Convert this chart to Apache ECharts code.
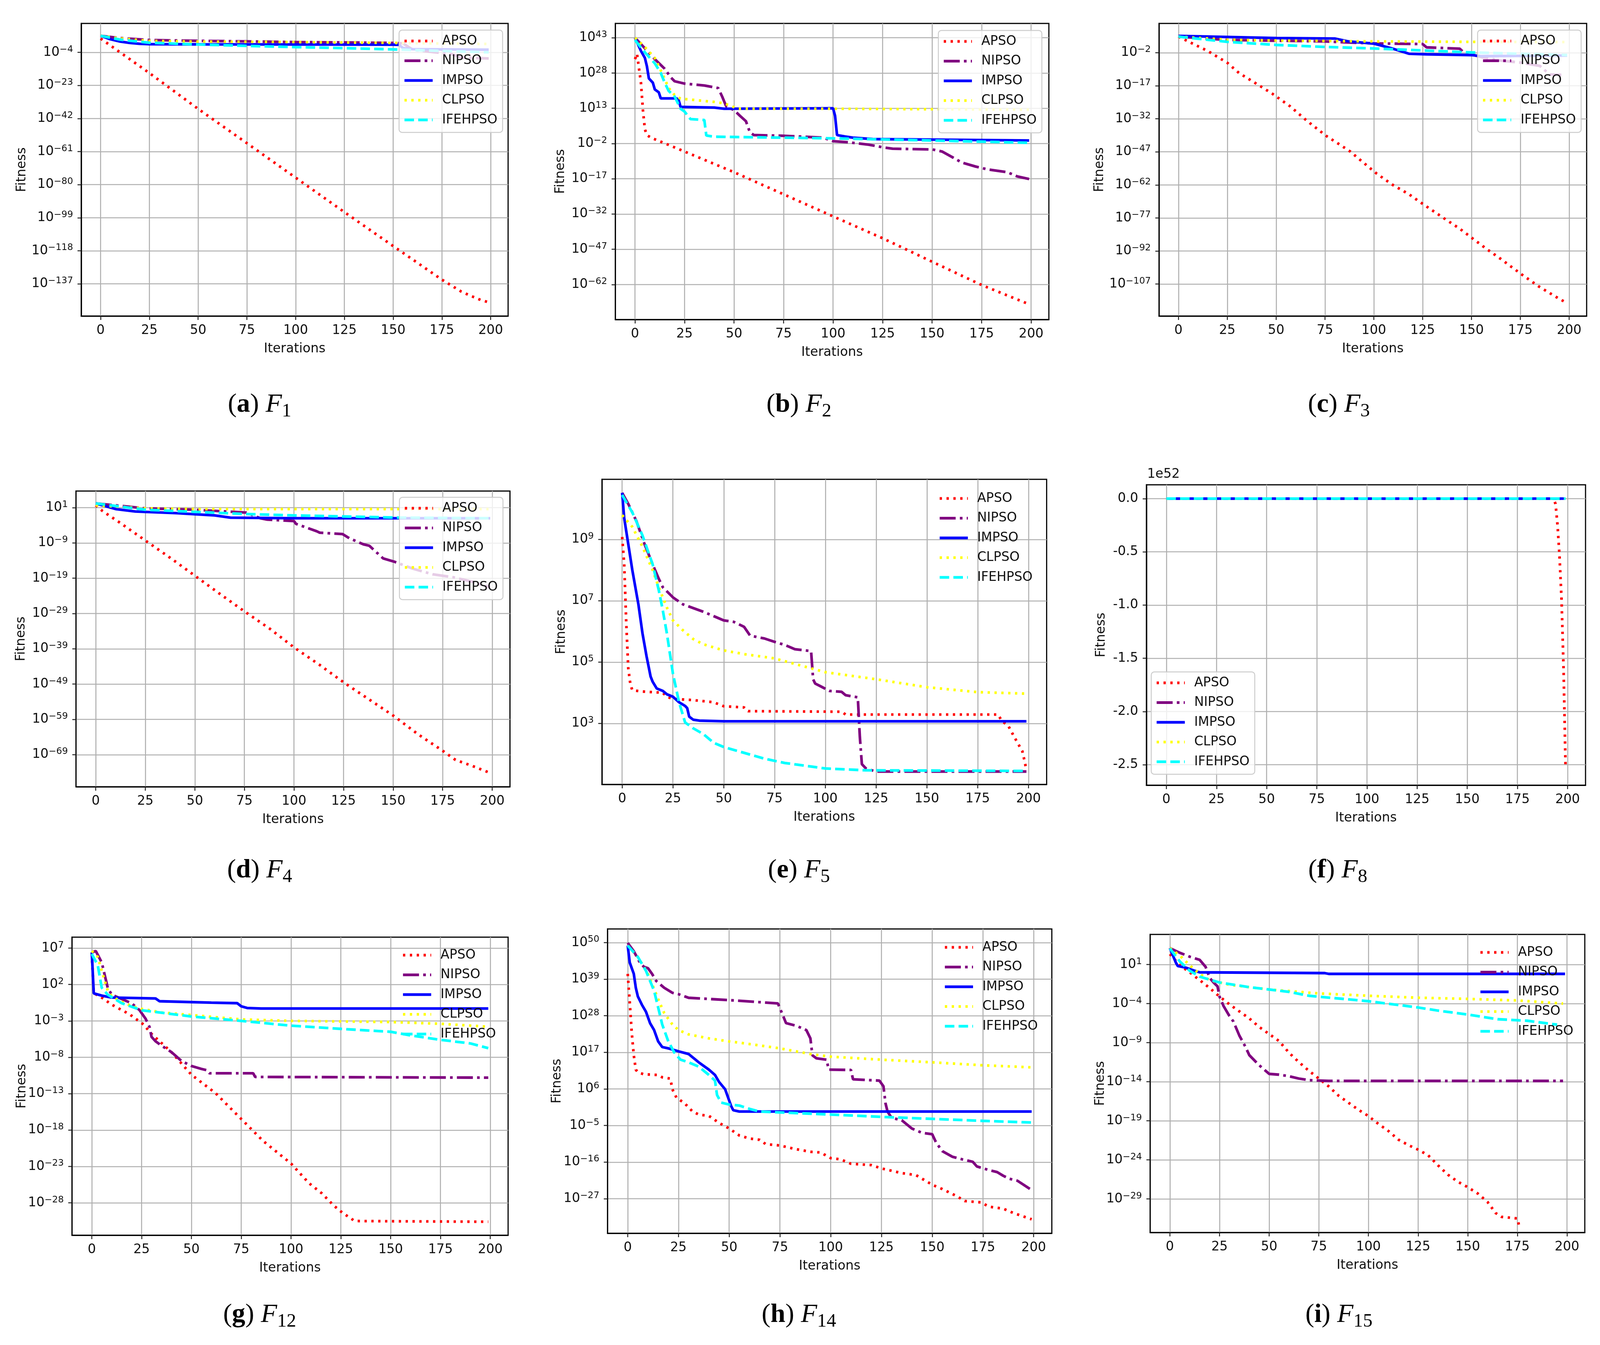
<!DOCTYPE html>
<html><head><meta charset="utf-8">
<script src="https://cdn.jsdelivr.net/npm/echarts@6/dist/echarts.min.js"></script>
<style>html,body{margin:0;padding:0;background:#fff;overflow:hidden;}#c{position:absolute;left:0;top:0;}</style>
</head><body><div id="c"></div>
<script>
// ---------------- DATA (iteration, log10(fitness)) except F8 (raw fitness) ----------------
const algorithms = ['APSO', 'NIPSO', 'IMPSO', 'CLPSO', 'IFEHPSO'];
const iterTicks = [0, 25, 50, 75, 100, 125, 150, 175, 200];
const captionLetters = ['a', 'b', 'c', 'd', 'e', 'f', 'g', 'h', 'i'];
const captionSubs = ['1', '2', '3', '4', '5', '8', '12', '14', '15'];

const F1_yticks = [-137, -118, -99, -80, -61, -42, -23, -4];
const F1_APSO = [[0,3.9],[25,-15.9],[50,-36.5],[75,-56.2],[100,-76],[125,-95.8],[150,-115.3],[175,-134.6],[185,-141.5],[190,-144],[195,-146.3],[199,-147.6]];
const F1_NIPSO = [[0,5.5],[10,4.2],[25,3.1],[50,2.6],[75,2.3],[100,1.9],[125,1.7],[150,1.4],[155,1.2],[160,-2.5],[170,-3.8],[180,-5],[185,-7],[199,-7.5]];
const F1_IMPSO = [[0,5.5],[5,3.5],[10,2.2],[15,1.4],[20,0.9],[25,0.7],[50,0.6],[100,0.5],[150,0.4],[153,0.3],[155,-1.5],[160,-2.2],[199,-2.5]];
const F1_CLPSO = [[0,5.5],[10,4],[25,2.6],[50,2.2],[100,1.9],[150,1.4],[199,0.8]];
const F1_IFEHPSO = [[0,5.5],[10,3.3],[25,1.5],[50,0.5],[75,-0.3],[100,-1],[125,-1.6],[150,-2.3],[175,-3.2],[199,-4]];

const F2_yticks = [-62, -47, -32, -17, -2, 13, 28, 43];
const F2_APSO = [[0,33.9],[1,36.2],[2,30],[3,23.9],[4,12.2],[5,4],[6,1.6],[8,0.5],[15,-1.9],[25,-5.4],[50,-14.2],[75,-23.6],[100,-33],[125,-42.3],[150,-52.3],[175,-62.2],[199,-70.4]];
const F2_NIPSO = [[0,43],[5,38.5],[10,33.9],[15,29.8],[18,26.2],[20,24.5],[25,23.5],[35,22.7],[42,21.6],[44,18],[46,13.9],[50,12.2],[53,9.8],[56,7.5],[58,2.8],[60,1.6],[75,1.3],[95,0.5],[100,-1],[108,-1.5],[118,-2.5],[125,-3.6],[130,-4.2],[150,-4.5],[155,-5.4],[160,-7.7],[165,-10.1],[172,-11.8],[178,-13],[188,-14.2],[193,-16],[199,-17.1]];
const F2_IMPSO = [[0,43],[3,37.4],[5,34.4],[6,30.9],[7,25.7],[9,23.9],[10,21],[12,19.8],[13,17.2],[21,17.2],[22,16.6],[23,13.6],[40,13.3],[45,12.8],[100,13],[101,9.8],[102,1.6],[106,1],[110,0.5],[120,-0.1],[199,-0.7]];
const F2_CLPSO = [[0,43],[5,39],[10,34.4],[14,27.4],[17,21.6],[20,18.6],[23,17.1],[40,15.7],[45,15.1],[52,12.8],[100,12.8],[199,12.4]];
const F2_IFEHPSO = [[0,42],[5,36.8],[10,32.1],[13,28],[15,23.9],[17,20.4],[20,18],[23,12.8],[25,11.6],[28,8.4],[35,8],[36,1.4],[40,0.9],[100,0.2],[150,-0.7],[199,-1.7]];

const F3_yticks = [-107, -92, -77, -62, -47, -32, -17, -2];
const F3_APSO = [[0,5.25],[15,-1.25],[25,-6.6],[31,-11.25],[39,-15.6],[48,-20.6],[57,-26.25],[66,-33.1],[76,-40],[81.5,-43.1],[88,-46.9],[95.5,-52.5],[101.5,-56.9],[109.5,-61.9],[118,-66.25],[124,-70],[135.5,-76.9],[144,-81.9],[150.5,-86.25],[158,-91.25],[165,-95.6],[175.5,-102.5],[184.5,-108.1],[195,-113.75],[199,-115.6]];
const F3_NIPSO = [[0,5.25],[25,3.75],[50,3.4],[75,3.1],[90,2.5],[100,2.2],[125,1.9],[127,0.4],[144,-0.2],[146,-1.9],[155,-4],[165,-5.6],[175,-6.5],[185,-8],[190,-11.9],[196,-12.1]];
const F3_IMPSO = [[0,5.6],[50,4.6],[80,4.4],[87,3.1],[100,2.1],[109,0],[118,-2.5],[127,-2.75],[150,-3.1],[155,-3.6],[199,-3.3]];
const F3_CLPSO = [[0,5.25],[25,3.9],[50,3.5],[100,3.1],[150,2.9],[199,2.8]];
const F3_IFEHPSO = [[0,5.25],[10,4.3],[25,2.9],[50,1.5],[75,0.6],[100,-0.1],[125,-1],[150,-1.9],[175,-2.5],[199,-3.1]];

const F4_yticks = [-69, -59, -49, -39, -29, -19, -9, 1];
const F4_APSO = [[0,1.65],[3.5,0],[12,-3.2],[26,-8.7],[38,-13.4],[50,-18.3],[62,-23.2],[75,-28.4],[88,-33.4],[100,-38.6],[113,-43.6],[125,-48.5],[138,-53.4],[150.5,-58.1],[162.5,-63.2],[175.5,-68.1],[181.5,-70.5],[190,-72.2],[199,-74.2]];
const F4_NIPSO = [[0,2.2],[25,0.8],[50,0.4],[76,-0.4],[83,-2],[86.5,-2.4],[100,-2.8],[101,-3.6],[111.5,-5.7],[113,-6.1],[124.5,-6.5],[128,-7.7],[135,-9.4],[138,-9.8],[145,-13.4],[150.5,-14.3],[160,-16.3],[170,-17.9],[180,-18.7],[190,-20],[199,-21.6]];
const F4_IMPSO = [[0,2.2],[10,0.6],[20,-0.1],[40,-0.55],[60,-1.2],[68,-1.85],[100,-2],[199,-2]];
const F4_CLPSO = [[0,1.65],[25,0.8],[50,0.6],[199,0.6]];
const F4_IFEHPSO = [[0,2.2],[25,0.4],[50,-0.2],[75,-0.8],[100,-1.2],[150,-1.8],[199,-2]];

const F5_yticks = [3, 5, 7, 9];
const F5_APSO = [[0,9.08],[1,8.2],[2,6.3],[3,4.8],[4,4.3],[5,4.08],[10,4.04],[20,4.0],[22,3.87],[25,3.8],[35,3.76],[45,3.69],[50,3.56],[60,3.52],[62,3.4],[108,3.38],[110,3.29],[185,3.29],[187,3.07],[190,2.93],[193,2.56],[197,2.09],[198,1.8],[199,1.48]];
const F5_NIPSO = [[0,10.52],[3,10.16],[7,9.6],[11,8.85],[15,8.19],[18,7.72],[20,7.44],[25,7.11],[30,6.88],[40,6.64],[50,6.36],[55,6.31],[60,6.15],[63,5.86],[70,5.77],[75,5.66],[80,5.56],[85,5.42],[90,5.38],[93,5.36],[94,4.44],[95,4.3],[98,4.2],[102,4.06],[108,4.03],[110,3.92],[116,3.85],[117,2.56],[118,1.67],[120,1.53],[125,1.43],[199,1.43]];
const F5_IMPSO = [[0,10.52],[1,9.7],[3,8.85],[5,8.0],[8,6.88],[10,5.94],[12,5.19],[14,4.53],[15,4.36],[17,4.14],[20,4.06],[22,3.95],[25,3.87],[28,3.69],[31,3.57],[32,3.5],[33,3.22],[35,3.12],[38,3.09],[50,3.07],[199,3.07]];
const F5_CLPSO = [[0,9.79],[5,9.41],[10,8.76],[15,8.0],[18,7.44],[22,6.78],[25,6.36],[30,6.03],[35,5.75],[40,5.58],[50,5.38],[60,5.26],[75,5.12],[100,4.67],[125,4.44],[150,4.18],[175,4.02],[199,3.97]];
const F5_IFEHPSO = [[0,10.45],[5,9.88],[10,9.13],[15,8.19],[18,7.35],[20,6.69],[22,5.94],[25,4.62],[28,3.69],[31,3.03],[35,2.84],[40,2.65],[45,2.37],[50,2.23],[60,2.04],[70,1.85],[80,1.71],[90,1.62],[100,1.53],[120,1.47],[199,1.45]];

const F8_yticks = [-2.5e52, -2.0e52, -1.5e52, -1.0e52, -0.5e52, 0];
const F8_APSO = [[0,0],[193,0],[194,-0.05e52],[195,-0.25e52],[196,-0.55e52],[197,-0.95e52],[198,-1.6e52],[199,-2.53e52]];
const F8_NIPSO = [[0,0],[199,0]];
const F8_IMPSO = [[0,0],[199,0]];
const F8_CLPSO = [[0,0],[199,0]];
const F8_IFEHPSO = [[0,0],[199,0]];

const F12_yticks = [-28, -23, -18, -13, -8, -3, 2, 7];
const F12_APSO = [[0,6.2],[1,0.78],[4,0.4],[10,-0.77],[19,-2.1],[26,-3.5],[30,-4.8],[40,-7.3],[50,-10.4],[62,-12.9],[74,-16.2],[86,-19.5],[100,-22.6],[109,-25.3],[115.5,-26.7],[121.5,-28.4],[126,-29.4],[132,-30.5],[199,-30.6]];
const F12_NIPSO = [[0,6.4],[2,6.6],[5,5.03],[8,1.55],[10,0.6],[15,0],[20,-0.57],[24,-1.54],[27,-2.7],[29,-3.86],[30,-5.2],[32,-5.8],[35,-6.4],[40,-7.3],[45,-8.5],[50,-9.2],[55,-9.6],[58,-9.8],[59,-10.2],[81,-10.2],[82,-10.7],[199,-10.8]];
const F12_IMPSO = [[0,6.4],[1,0.78],[5,0.47],[10,0.2],[32,0.08],[34,-0.3],[60,-0.5],[73,-0.57],[75,-1.0],[78,-1.23],[85,-1.3],[199,-1.3]];
const F12_CLPSO = [[0,6.6],[3,5.8],[5,3.87],[8,1.17],[10,0.39],[15,-0.38],[20,-0.96],[25,-1.35],[35,-1.85],[50,-2.2],[75,-2.8],[100,-3.0],[150,-3.16],[175,-3.4],[199,-3.8]];
const F12_IFEHPSO = [[0,6.2],[3,4.64],[5,1.55],[8,0.6],[15,-0.57],[25,-1.54],[50,-2.4],[75,-3.0],[100,-3.66],[125,-4.1],[150,-4.5],[160,-5.0],[175,-5.6],[190,-6.1],[199,-6.75]];

const F14_yticks = [-27, -16, -5, 6, 17, 28, 39, 50];
const F14_APSO = [[0,40.6],[1,32.1],[2,22.8],[3,16.1],[4,11.8],[5,11],[8,10.4],[15,10.2],[17,9.5],[21,9.1],[22,5.9],[24,3.4],[28,1.7],[32,-0.8],[35,-1.7],[40,-2.1],[45,-4.2],[50,-5.9],[55,-8],[60,-8.9],[65,-9.3],[68,-10.6],[75,-11],[82,-12],[90,-12.9],[95,-13.1],[100,-14.8],[105,-15.2],[110,-16.5],[120,-16.9],[125,-17.9],[135,-19.3],[142,-19.9],[150,-22.8],[155,-24.1],[162,-26.2],[166,-27.7],[174,-28.1],[178,-29.4],[185,-30],[190,-31.3],[199,-33.2]];
const F14_NIPSO = [[0,49.9],[3,47.4],[6,44],[8,42.7],[10,42.3],[12,40.6],[14,38.5],[18,36.4],[22,34.9],[25,34.5],[30,33.4],[50,32.7],[65,32.1],[74,31.7],[76,28.8],[78,25.8],[83,25],[88,23.7],[90,21.2],[91,16.1],[93,15.2],[98,14.8],[99,11.8],[110,11.7],[111,8.9],[124,8.5],[126,6.8],[127,1.7],[128,-0.8],[130,-2.7],[135,-3.4],[140,-5.9],[145,-7.2],[150,-7.6],[152,-10.2],[155,-12.7],[160,-14.4],[165,-15.2],[170,-15.9],[172,-17.3],[178,-18.4],[182,-19],[185,-20.1],[188,-21],[192,-21.6],[199,-24.4]];
const F14_IMPSO = [[0,49.1],[1,44],[3,40.6],[4,36.4],[5,33.8],[7,31.3],[9,29.2],[11,25.8],[13,23.7],[15,20.3],[17,18.6],[20,18.2],[25,17.3],[30,16.5],[35,14],[40,11.8],[43,10.2],[45,8.1],[48,5.9],[50,2.5],[51,0.8],[52,-0.4],[55,-0.8],[199,-0.8]];
const F14_CLPSO = [[0,49.1],[5,45.7],[10,40.6],[15,33],[18,28.8],[22,25.4],[25,23.7],[30,22.4],[40,21.2],[50,20.3],[60,19.5],[75,18.2],[90,16.5],[100,15.7],[125,14.8],[150,14],[175,13.1],[199,12.5]];
const F14_IFEHPSO = [[0,49.1],[5,45.7],[9,41.5],[13,35.5],[15,30.5],[17,25.4],[20,20.3],[23,16.9],[26,14.8],[30,14],[35,12.7],[40,10.2],[43,8.5],[44,4.2],[46,1.9],[50,1.3],[55,1],[60,0],[65,-0.8],[100,-1.7],[125,-2.4],[150,-3],[175,-3.6],[199,-4.1]];

const F15_yticks = [-29, -24, -19, -14, -9, -4, 1];
const F15_APSO = [[0,2.33],[5,0.9],[10,0],[15,-1],[20,-2],[25,-3.1],[30,-4.1],[35,-5],[40,-5.9],[45,-7],[50,-7.9],[55,-8.8],[60,-10.3],[65,-11.5],[70,-12.6],[75,-13.6],[80,-14.6],[85,-15.8],[90,-16.7],[95,-17.6],[100,-18.4],[105,-19.4],[110,-20.3],[115,-21.4],[120,-22.1],[125,-22.7],[130,-23.4],[135,-24.7],[140,-25.9],[145,-26.8],[150,-27.5],[155,-28.3],[160,-29.4],[164,-30.8],[167,-31.3],[175,-31.5],[176,-32.6]];
const F15_NIPSO = [[0,3.1],[5,2.5],[10,2.0],[15,1.6],[18,0.7],[20,-0.7],[22,-1.3],[24,-1.8],[25,-3.1],[27,-4.3],[30,-5.6],[32,-6.3],[35,-8.1],[38,-9.5],[40,-10.6],[45,-11.9],[50,-13],[55,-13.1],[60,-13.3],[65,-13.6],[70,-13.8],[80,-13.9],[198,-13.9]];
const F15_IMPSO = [[0,3.1],[3,1.25],[4,0.8],[8,0.6],[12,0.24],[15,0],[78,-0.1],[80,-0.2],[199,-0.2]];
const F15_CLPSO = [[0,3.1],[5,2.15],[10,0.9],[15,-0.2],[20,-1],[30,-1.6],[50,-2.2],[75,-2.7],[100,-3],[125,-3.25],[150,-3.4],[175,-3.6],[198,-4]];
const F15_IFEHPSO = [[0,3.05],[5,1.4],[10,0.2],[15,-0.55],[25,-1.3],[40,-1.9],[50,-2.2],[60,-2.5],[70,-3],[100,-3.7],[125,-4.5],[135,-4.9],[150,-5.4],[165,-6],[180,-6.2],[195,-6.7]];

const panelData = [
  [F1_APSO, F1_NIPSO, F1_IMPSO, F1_CLPSO, F1_IFEHPSO],
  [F2_APSO, F2_NIPSO, F2_IMPSO, F2_CLPSO, F2_IFEHPSO],
  [F3_APSO, F3_NIPSO, F3_IMPSO, F3_CLPSO, F3_IFEHPSO],
  [F4_APSO, F4_NIPSO, F4_IMPSO, F4_CLPSO, F4_IFEHPSO],
  [F5_APSO, F5_NIPSO, F5_IMPSO, F5_CLPSO, F5_IFEHPSO],
  [F8_APSO, F8_NIPSO, F8_IMPSO, F8_CLPSO, F8_IFEHPSO],
  [F12_APSO, F12_NIPSO, F12_IMPSO, F12_CLPSO, F12_IFEHPSO],
  [F14_APSO, F14_NIPSO, F14_IMPSO, F14_CLPSO, F14_IFEHPSO],
  [F15_APSO, F15_NIPSO, F15_IMPSO, F15_CLPSO, F15_IFEHPSO]
];
const panelTicks = [F1_yticks, F2_yticks, F3_yticks, F4_yticks, F5_yticks, F8_yticks, F12_yticks, F14_yticks, F15_yticks];

// ---------------- LAYOUT & STYLE (design units = 4314 x 3443, fitted to the viewport) ----------------
const VW = window.innerWidth || 4314, VH = window.innerHeight || 3443;
const SX = VW / 4314, SY = VH / 3443, SF = (SX + SY) / 2;
const zx = v => v * SX, zy = v => v * SY, zf = v => v * SF;
const el = document.getElementById('c');
el.style.width = VW + 'px';
el.style.height = VH + 'px';

const FONT = "'DejaVu Sans',sans-serif";
const SERIF = "'Liberation Serif','DejaVu Serif',serif";
const FS = 34;
const layout = [
  {l:219, t:60, r:1370, b:809, yMin:-155.5, yMax:12.6, log:true, gapY:142, lg:{x:1076, y:77, f:true}, cap:{x:700, y:1036}},
  {l:1659, t:60, r:2828, b:818, yMin:-76.9, yMax:49.1, log:true, gapY:130, lg:{x:2530, y:78, f:true}, cap:{x:2154, y:1036}},
  {l:3125, t:60, r:4278, b:809, yMin:-121.5, yMax:11.25, log:true, gapY:142, lg:{x:3984, y:77, f:true}, cap:{x:3610, y:1036}},
  {l:205, t:1257, r:1375, b:2014, yMin:-78.1, yMax:5.7, log:true, gapY:130, lg:{x:1077, y:1273, f:true}, cap:{x:700, y:2228}},
  {l:1623, t:1227, r:2822, b:2008, yMin:1.01, yMax:10.96, log:true, gapY:92, lg:{x:2519, y:1248, f:false}, cap:{x:2154, y:2228}},
  {l:3091, t:1241, r:4275, b:2010, yMin:-2.692e52, yMax:0.1297e52, log:false, gapY:104, lg:{x:3104, y:1720, f:true}, cap:{x:3607, y:2228}},
  {l:194, t:2399, r:1370, b:3162, yMin:-32.45, yMax:8.5, log:true, gapY:117, lg:{x:1072, y:2417, f:false}, cap:{x:700, y:3366}},
  {l:1638, t:2378, r:2836, b:3157, yMin:-37.4, yMax:54.1, log:true, gapY:118, lg:{x:2533, y:2397, f:false}, cap:{x:2154, y:3366}},
  {l:3101, t:2392, r:4273, b:3155, yMin:-33.3, yMax:4.85, log:true, gapY:116, lg:{x:3977, y:2410, f:false}, cap:{x:3610, y:3366}}
];
const seriesStyle = {
  APSO:    {color:'#ff0000', type:[6, 12]},
  NIPSO:   {color:'#800080', type:[42, 11, 7, 11]},
  IMPSO:   {color:'#0000ff', type:'solid'},
  CLPSO:   {color:'#ffff00', type:[6, 12]},
  IFEHPSO: {color:'#00ffff', type:[25, 11]}
};
const LW = 7;
const dash = t => Array.isArray(t) ? t.map(zf) : t;

function supLabel(v) {
  const n = Math.round(v);
  return '{b|10}{s|' + (n < 0 ? '\u2212' + (-n) : String(n)) + '}';
}

const option = {animation:false, backgroundColor:'#ffffff', grid:[], xAxis:[], yAxis:[], series:[], legend:[], title:[]};

layout.forEach((p, i) => {
  option.grid.push({left:zx(p.l), top:zy(p.t), width:zx(p.r - p.l), height:zy(p.b - p.t), show:true,
    borderColor:'#000', borderWidth:zf(3), backgroundColor:'transparent', containLabel:false, outerBoundsMode:'none'});
  option.xAxis.push({type:'value', gridIndex:i, min:-9.95, max:208.95,
    name:'Iterations', nameLocation:'middle', nameGap:zy(68), nameMoveOverlap:false,
    nameTextStyle:{fontSize:zf(FS), fontFamily:FONT, color:'#111'},
    axisLine:{show:true, onZero:false, lineStyle:{color:'#000', width:zf(3)}},
    axisTick:{show:true, length:zy(10), customValues:iterTicks, lineStyle:{color:'#222', width:zf(2.5)}},
    axisLabel:{customValues:iterTicks, fontSize:zf(FS), fontFamily:FONT, color:'#111', margin:zy(21)},
    splitLine:{show:true, lineStyle:{color:'#b0b0b0', width:zf(2.7)}}});
  const ticks = panelTicks[i];
  option.yAxis.push({type:'value', gridIndex:i, min:p.yMin, max:p.yMax,
    name:'Fitness', nameLocation:'middle', nameGap:zx(p.gapY), nameMoveOverlap:false,
    nameTextStyle:{fontSize:zf(FS), fontFamily:FONT, color:'#111'},
    axisLine:{show:true, onZero:false, lineStyle:{color:'#000', width:zf(3)}},
    axisTick:{show:true, length:zx(10), customValues:ticks, lineStyle:{color:'#222', width:zf(2.5)}},
    axisLabel:{customValues:ticks, color:'#111', margin:zx(22), fontSize:zf(FS), fontFamily:FONT,
      formatter: p.log ? supLabel : (v => (v / 1e52).toFixed(1)),
      rich:{b:{fontSize:zf(FS), fontFamily:FONT, color:'#111', lineHeight:zy(38)},
            s:{fontSize:zf(24), fontFamily:FONT, color:'#111', verticalAlign:'top'}}},
    splitLine:{show:true, lineStyle:{color:'#b0b0b0', width:zf(2.7)}}});
  panelData[i].forEach((d, k) => {
    const nm = algorithms[k];
    option.series.push({type:'line', name:nm, xAxisIndex:i, yAxisIndex:i, data:d,
      symbol:'none', showSymbol:false, silent:true, clip:true,
      lineStyle:{color:seriesStyle[nm].color, width:zf(LW), type:dash(seriesStyle[nm].type), cap:'butt'},
      itemStyle:{color:seriesStyle[nm].color}, emphasis:{disabled:true}});
  });
  option.legend.push({orient:'vertical', left:zx(p.lg.x), top:zy(p.lg.y), data:algorithms.slice(),
    itemWidth:zx(76), itemHeight:zy(2), itemGap:zy(12.5), selectedMode:false,
    padding:[zy(9), zx(14), zy(13), zx(11)],
    borderColor: p.lg.f ? '#cccccc' : 'transparent', borderWidth: p.lg.f ? zf(2.5) : 0, borderRadius:zf(8),
    backgroundColor: p.lg.f ? 'rgba(255,255,255,0.8)' : 'transparent',
    textStyle:{fontSize:zf(FS), fontFamily:FONT, color:'#111', lineHeight:zy(38), padding:[0, 0, 0, zx(20)]},
    itemStyle:{opacity:0, borderWidth:0},
    lineStyle:{width:zf(LW)}});
  option.title.push({text:'{p|(}{bd|' + captionLetters[i] + '}{p|) }{it|F}{sub|' + captionSubs[i] + '}',
    left:zx(p.cap.x), top:zy(p.cap.y - 42), textAlign:'center', padding:0,
    textStyle:{fontWeight:'normal', fontFamily:SERIF, fontSize:zf(70), rich:{
      p:{fontSize:zf(70), fontFamily:SERIF, fontWeight:'normal', color:'#000', lineHeight:zy(84)},
      bd:{fontSize:zf(70), fontFamily:SERIF, fontWeight:'bold', color:'#000', lineHeight:zy(84)},
      it:{fontSize:zf(70), fontFamily:SERIF, fontWeight:'normal', fontStyle:'italic', color:'#000', lineHeight:zy(84)},
      sub:{fontSize:zf(50), fontFamily:SERIF, fontWeight:'normal', color:'#000', verticalAlign:'bottom'}}}});
});
option.title.push({text:'1e52', left:zx(3093), top:zy(1198), padding:0,
  textStyle:{fontSize:zf(FS), fontWeight:'normal', fontFamily:FONT, color:'#111'}});

const chart = echarts.init(el, null, {renderer:'canvas'});
chart.setOption(option);
</script></body></html>
